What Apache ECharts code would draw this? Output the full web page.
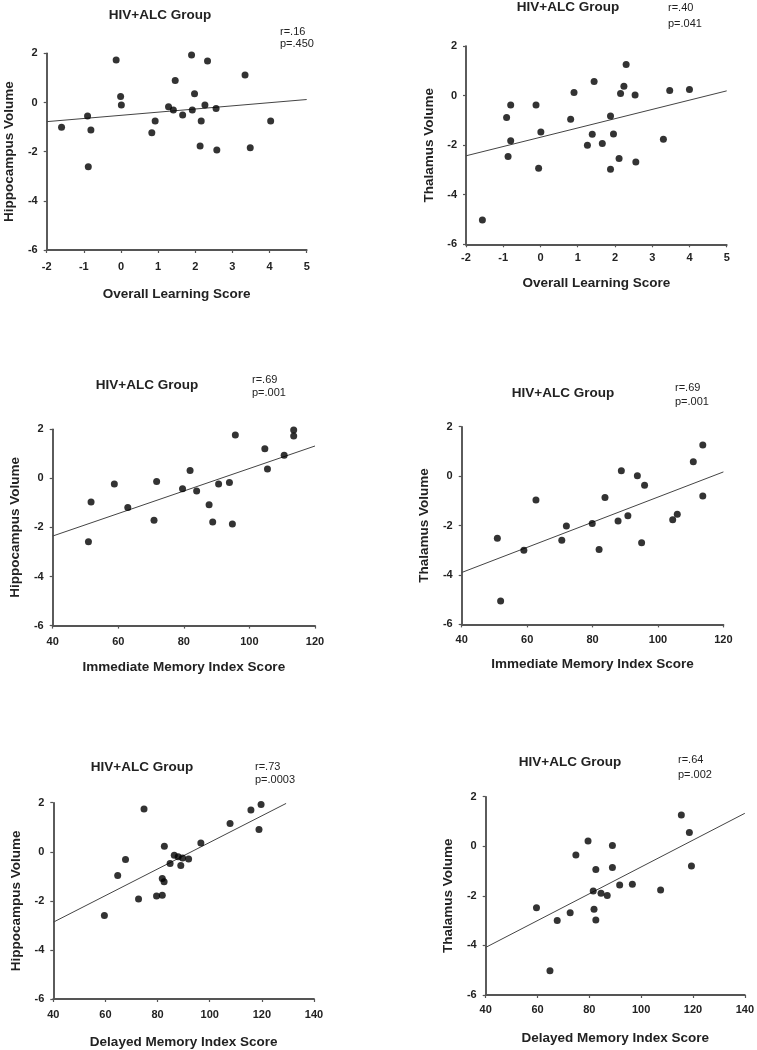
<!DOCTYPE html>
<html><head><meta charset="utf-8">
<script src="https://cdn.jsdelivr.net/npm/echarts@6/dist/echarts.min.js"></script>
<style>html,body{margin:0;padding:0;background:#fff}#c{width:757px;height:1050px}</style>
</head><body><div id="c"></div>
<script>
// Panel 1: Overall Learning Score vs Hippocampus Volume
const p1X = [-1.6,-0.90,-0.88,-0.81,-0.13,-0.01,0.01,0.83,0.92,1.46,1.28,1.41,1.66,1.90,1.92,1.98,2.16,2.13,2.26,2.33,2.56,2.58,3.34,3.48,4.03];
const p1Y = [-1.01,-0.55,-2.61,-1.12,1.73,0.24,-0.10,-1.23,-0.75,0.89,-0.17,-0.31,-0.51,1.93,-0.31,0.35,-0.75,-1.77,-0.10,1.69,-0.24,-1.93,1.12,-1.84,-0.75];
// Panel 2: Overall Learning Score vs Thalamus Volume
const p2X = [-1.56,-0.91,-0.80,-0.87,-0.80,-0.12,0.01,-0.05,0.81,0.90,1.44,1.39,1.26,1.66,1.88,1.96,1.88,2.11,2.15,2.24,2.30,2.54,2.56,3.30,3.47,4.00];
const p2Y = [-5.02,-0.88,-0.38,-2.46,-1.82,-0.38,-1.47,-2.93,-0.96,0.12,0.57,-1.56,-2.00,-1.93,-0.82,-1.55,-2.97,-2.54,0.08,0.38,1.25,0.02,-2.68,-1.76,0.20,0.25];
// Panel 3: Immediate Memory Index Score vs Hippocampus Volume
const p3X = [50.9,51.7,58.8,62.9,70.9,71.7,79.6,81.9,83.9,87.7,88.8,90.6,93.9,94.8,95.7,104.7,105.5,110.6,113.5,113.5];
const p3Y = [-2.58,-0.96,-0.23,-1.19,-1.71,-0.13,-0.42,0.32,-0.51,-1.07,-1.78,-0.23,-0.17,-1.86,1.77,1.21,0.38,0.94,1.97,1.73];
// Panel 4: Immediate Memory Index Score vs Thalamus Volume
const p4X = [50.9,51.9,59.0,62.7,70.6,72.0,79.9,82.0,83.8,87.8,88.8,90.8,93.7,95.0,95.9,104.5,105.9,110.8,113.7,113.7];
const p4Y = [-2.51,-5.05,-3.00,-0.97,-2.59,-2.02,-1.92,-2.97,-0.87,-1.82,0.22,-1.60,0.02,-2.70,-0.37,-1.77,-1.54,0.58,1.26,-0.80];
// Panel 5: Delayed Memory Index Score vs Hippocampus Volume
const p5X = [59.6,64.7,67.7,72.7,74.8,79.6,81.8,82.6,81.8,82.5,84.8,86.4,87.9,88.9,89.6,91.9,96.6,107.8,115.8,118.9,119.7];
const p5Y = [-2.60,-0.97,-0.31,-1.92,1.74,-1.80,-1.77,0.23,-1.09,-1.22,-0.48,-0.14,-0.20,-0.56,-0.25,-0.29,0.36,1.15,1.70,0.91,1.93];
// Panel 6: Delayed Memory Index Score vs Thalamus Volume
const p6X = [59.6,64.8,67.6,72.6,74.8,79.5,81.5,81.8,82.5,82.5,84.5,86.9,88.9,88.9,91.7,96.6,107.5,115.5,118.6,119.4];
const p6Y = [-2.48,-5.02,-2.99,-2.68,-0.35,0.21,-1.80,-2.54,-0.94,-2.97,-1.90,-1.99,0.03,-0.86,-1.56,-1.53,-1.76,1.26,0.56,-0.80];

// Regression line end points
const fit1X = [-2,5],  fit1Y = [-0.78,0.12];
const fit2X = [-2,5],  fit2Y = [-2.43,0.19];
const fit3X = [40,120], fit3Y = [-2.35,1.32];
const fit4X = [40,120], fit4Y = [-3.90,0.17];
const fit5X = [40,129.3], fit5Y = [-2.87,1.97];
const fit6X = [40,140], fit6Y = [-4.08,1.33];

const titles = ['HIV+ALC Group','HIV+ALC Group','HIV+ALC Group','HIV+ALC Group','HIV+ALC Group','HIV+ALC Group'];
const statR = ['r=.16','r=.40','r=.69','r=.69','r=.73','r=.64'];
const statP = ['p=.450','p=.041','p=.001','p=.001','p=.0003','p=.002'];
const xNames = ['Overall Learning Score','Overall Learning Score','Immediate Memory Index Score','Immediate Memory Index Score','Delayed Memory Index Score','Delayed Memory Index Score'];
const yNames = ['Hippocampus Volume','Thalamus Volume','Hippocampus Volume','Thalamus Volume','Hippocampus Volume','Thalamus Volume'];
const xRanges = [[-2,5,1],[-2,5,1],[40,120,20],[40,120,20],[40,140,20],[40,140,20]];
const yRange = [-6,2,2];

// layout (pixels)
const grids = [
  {left:46.7, top:53.3, width:260, height:196.7},
  {left:466, top:46, width:260.7, height:198.3},
  {left:52.7, top:429.3, width:262.3, height:196.3},
  {left:461.7, top:426.7, width:261.7, height:197.7},
  {left:53.3, top:802.7, width:260.7, height:196.7},
  {left:485.7, top:796.7, width:261.7, height:198.3}
];
const xLabelMargin = [11,8,11,10,10,9];
const xNameGap = [37,32,35,33,36,36];
const titlePos = [[160,15],[568,7],[147,385],[563,393],[142,767],[570,762]];
const statPos = [[280,37.5],[668,16.2],[252,386.7],[675,394.8],[255,773.3],[678,767.5]];
const statLineH = [12,16,13,14,13,15];

const ptsX = [p1X,p2X,p3X,p4X,p5X,p6X];
const ptsY = [p1Y,p2Y,p3Y,p4Y,p5Y,p6Y];
const fitX = [fit1X,fit2X,fit3X,fit4X,fit5X,fit6X];
const fitY = [fit1Y,fit2Y,fit3Y,fit4Y,fit5Y,fit6Y];

const FONT = 'Liberation Sans, Arial, sans-serif';
const axisCol = '#555';
const textCol = '#222';

const option = {
  animation:false,
  backgroundColor:'#fff',
  grid: grids.map(g => Object.assign({containLabel:false}, g)),
  xAxis: xRanges.map((r,i) => ({
    type:'value', gridIndex:i, min:r[0], max:r[1], interval:r[2],
    name:xNames[i], nameLocation:'middle', nameGap:xNameGap[i],
    nameTextStyle:{fontFamily:FONT, fontWeight:'bold', fontSize:13.5, color:textCol},
    axisLine:{show:true, onZero:false, lineStyle:{color:axisCol, width:1.8}},
    axisTick:{show:true, length:3, lineStyle:{color:axisCol, width:1.2}},
    axisLabel:{fontFamily:FONT, fontWeight:'bold', fontSize:11, color:textCol, margin:xLabelMargin[i]},
    splitLine:{show:false}
  })),
  yAxis: xRanges.map((r,i) => ({
    type:'value', gridIndex:i, min:yRange[0], max:yRange[1], interval:yRange[2],
    name:yNames[i], nameLocation:'middle', nameGap:30,
    nameTextStyle:{fontFamily:FONT, fontWeight:'bold', fontSize:13.5, color:textCol},
    axisLine:{show:true, onZero:false, lineStyle:{color:'#333', width:1.6}},
    axisTick:{show:true, length:3, lineStyle:{color:axisCol, width:1.2}},
    axisLabel:{fontFamily:FONT, fontWeight:'bold', fontSize:11, color:textCol, margin:9},
    splitLine:{show:false}
  })),
  series: [].concat(
    ptsX.map((xs,i) => ({
      type:'scatter', xAxisIndex:i, yAxisIndex:i, symbol:'circle', symbolSize:7,
      itemStyle:{color:'#000'}, data: xs.map((x,k) => [x, ptsY[i][k]])
    })),
    fitX.map((xs,i) => ({
      type:'line', xAxisIndex:i, yAxisIndex:i, symbol:'none', z:1,
      lineStyle:{color:'#444', width:1}, data: xs.map((x,k) => [x, fitY[i][k]])
    }))
  ),
  graphic: [].concat(
    titlePos.map((p,i) => ({type:'text', x:p[0], y:p[1], style:{text:titles[i], fill:textCol,
      font:'bold 13.5px '+FONT, textAlign:'center', textVerticalAlign:'middle'}})),
    statPos.map((p,i) => ({type:'text', x:p[0], y:p[1], style:{text:statR[i]+'\n'+statP[i], fill:textCol,
      font:'11px '+FONT, lineHeight:statLineH[i], textAlign:'left', textVerticalAlign:'middle'}}))
  )
};
echarts.init(document.getElementById('c')).setOption(option);
</script></body></html>
